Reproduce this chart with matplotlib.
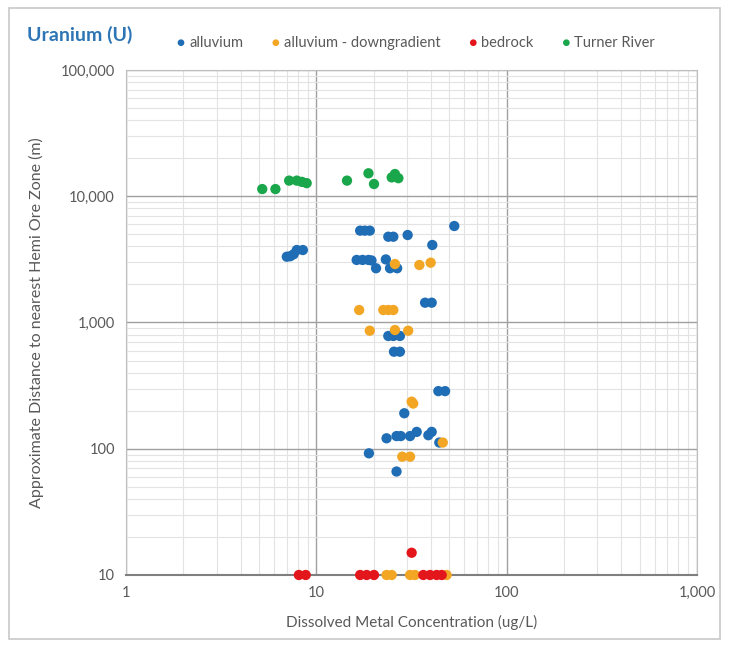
import numpy as np
import matplotlib.pyplot as plt
from matplotlib.ticker import FuncFormatter, LogLocator, NullFormatter
from matplotlib.patches import Rectangle

plt.rcParams['font.family'] = ['Lato', 'DejaVu Sans']

# ------------------------------
# Data
# ------------------------------
alluvium_x = [17.0, 18.0, 19.1, 23.9, 25.4, 30.2, 53.1, 40.7,
              7.0, 7.3, 7.6, 7.9, 8.5,
              16.3, 17.5, 18.8, 19.5, 20.6, 23.2, 24.4, 26.6,
              37.3, 40.4,
              23.9, 25.4, 27.5, 25.6, 27.5,
              43.8, 47.5, 29.0,
              23.4, 26.4, 27.8, 31.1, 33.7, 38.8, 40.4, 44.3,
              18.9, 26.4]
alluvium_y = [5340, 5340, 5340, 4780, 4780, 4930, 5810, 4110,
              3320, 3350, 3470, 3750, 3750,
              3130, 3130, 3130, 3100, 2690, 3160, 2690, 2690,
              1435, 1435,
              782, 782, 782, 587, 587,
              286, 286, 191,
              121, 126, 126, 126, 136, 128, 136, 112,
              92, 66]

down_x = [25.9, 34.8, 39.9, 16.8, 22.5, 23.9, 25.4,
          19.1, 25.9, 30.4, 31.7, 32.3, 46.2, 28.3, 31.1,
          23.4, 24.9, 31.1, 33.0, 48.4]
down_y = [2905, 2853, 2977, 1256, 1256, 1256, 1256,
          861, 872, 861, 236, 228, 112, 86.5, 86.5,
          10, 10, 10, 10, 10]

bedrock_x = [8.1, 8.8, 17.0, 18.4, 20.1, 36.5, 39.6, 42.9, 45.6, 31.7]
bedrock_y = [10, 10, 10, 10, 10, 10, 10, 10, 10, 15.0]

turner_x = [5.2, 6.1, 7.2, 7.9, 8.4, 8.9, 14.5, 18.8, 20.1, 24.9, 25.9, 27.0]
turner_y = [11400, 11400, 13300, 13300, 13000, 12700, 13300, 15200,
            12500, 14100, 15000, 13900]

series = [
    ("alluvium", alluvium_x, alluvium_y, "#1f6db5"),
    ("alluvium - downgradient", down_x, down_y, "#f2a623"),
    ("bedrock", bedrock_x, bedrock_y, "#e3161b"),
    ("Turner River", turner_x, turner_y, "#1aa64a"),
]

# ------------------------------
# Plotting
# ------------------------------
fig = plt.figure(figsize=(7.29, 6.47), dpi=100)
ax = fig.add_axes([0.1728, 0.1113, 0.7832, 0.7805])

txt = "#595959"
for name, xs, ys, col in series:
    ax.scatter(xs, ys, s=55, color=col, edgecolors="none", label=name,
               zorder=3, clip_on=False)

ax.set_xscale("log")
ax.set_yscale("log")
ax.set_xlim(1, 1000)
ax.set_ylim(10, 100000)

fmt = FuncFormatter(lambda v, p: f"{v:,.0f}")
ax.xaxis.set_major_formatter(fmt)
ax.yaxis.set_major_formatter(fmt)
for a in (ax.xaxis, ax.yaxis):
    a.set_minor_locator(LogLocator(base=10, subs=np.arange(2, 10)))
    a.set_minor_formatter(NullFormatter())

ax.grid(which="major", color="#a0a0a0", linewidth=1.0, zorder=0)
ax.grid(which="minor", color="#e3e3e3", linewidth=0.8, zorder=0)
ax.tick_params(which="both", length=0, labelsize=10.5, colors=txt, pad=8)
for s in ax.spines.values():
    s.set_color("#bfbfbf")
ax.spines["bottom"].set_color("#7f7f7f")
ax.spines["bottom"].set_linewidth(1.5)
ax.set_axisbelow(True)

ax.set_xlabel("Dissolved Metal Concentration (ug/L)", fontsize=11,
              color=txt, labelpad=11)
ax.set_ylabel("Approximate Distance to nearest Hemi Ore Zone (m)",
              fontsize=11.5, color=txt, labelpad=12)

fig.text(0.037, 0.946, "Uranium (U)", fontsize=14, fontweight="bold",
         color="#2e75b6", va="center")
ax.legend(loc="lower left", bbox_to_anchor=(0.0785, 1.029), ncol=4,
          frameon=False, fontsize=10.5, handlelength=0.6, handletextpad=0.25,
          columnspacing=1.95, markerscale=0.65, labelcolor=txt,
          borderaxespad=0)

fig.patches.append(Rectangle((0.012, 0.012), 0.976, 0.976,
                             transform=fig.transFigure, fill=False,
                             edgecolor="#c8c8c8", linewidth=1.2))

plt.savefig("out.png", dpi=100)
